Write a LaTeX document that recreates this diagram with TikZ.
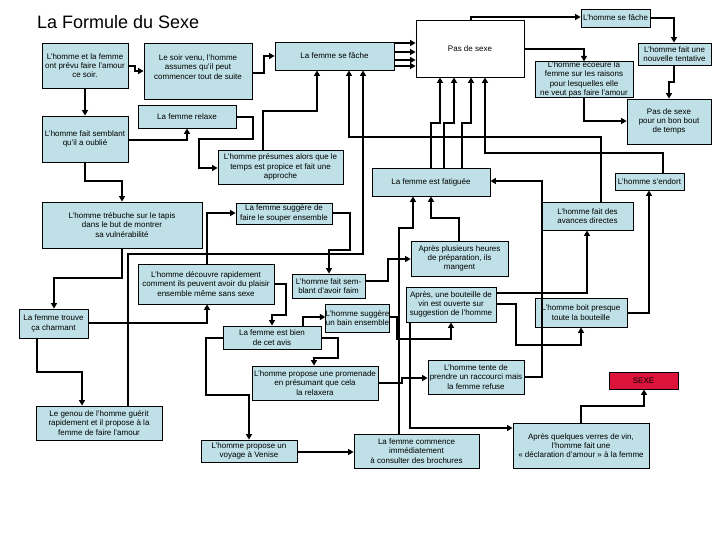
\documentclass[tikz,border=0pt]{standalone}
\usepackage{fontspec}
\setmainfont{Liberation Sans}
\usetikzlibrary{arrows.meta}
\definecolor{boxblue}{RGB}{190,224,230}
\definecolor{sexred}{RGB}{220,20,60}
\tikzset{
  box/.style={draw=black, line width=0.8pt, fill=boxblue, inner sep=0pt, align=center,
    font=\fontsize{8}{9.3}\selectfont},
  conn/.style={line width=2pt, -{Triangle[length=5.5pt,width=6pt]}},
}
\newcommand\mybox[7][]{\node[box,#1,minimum width={#5-#3},minimum height={#6-#4}] (#2) at ({(#3+#5)/2},{(#4+#6)/2}) {#7};}
\begin{document}
\begin{tikzpicture}[x=1pt,y=-1pt]
\useasboundingbox (0,0) rectangle (720,540);
\node[anchor=base west, inner sep=0pt, font=\fontsize{18}{20}\selectfont] (title) at (37,29) {La Formule du Sexe};

\mybox{A}{42}{43}{128}{88}{L'homme et la femme\\ont prévu faire l'amour\\ce soir.}
\mybox[text depth=8pt]{B}{144}{43}{252}{99}{Le soir venu, l'homme\\assumes qu'il peut\\commencer tout de suite}
\mybox{C}{275}{42}{394}{70}{La femme se fâche}
\mybox[fill=white]{D}{416}{20}{524}{77}{Pas de sexe}
\mybox{E}{581}{9}{650}{27}{L'homme se fâche}
\mybox{F}{638}{43}{711}{65}{L'homme fait une\\nouvelle tentative}
\mybox{G}{535}{62}{633}{97}{L'homme écoeure la\\femme sur les raisons\\pour lesquelles elle\\ne veut pas faire l'amour}
\mybox{H}{627}{99}{711}{144}{Pas de sexe\\pour un bon bout\\de temps}
\mybox{I}{138}{105}{236}{128}{La femme relaxe}
\mybox{J}{42}{116}{128}{162}{L'homme fait semblant\\qu'il a oublié}
\mybox{K}{218}{150}{343}{184}{L'homme présumes alors que le\\temps est propice et fait une\\approche}
\mybox{L}{372}{168}{490}{196}{La femme est fatiguée}
\mybox{M}{615}{173}{684}{190}{L'homme s'endort}
\mybox{N}{542}{202}{633}{230}{L'homme fait des\\avances directes}
\mybox{O}{42}{202}{202}{248}{L'homme trébuche sur le tapis\\dans le but de montrer\\sa vulnérabilité}
\mybox{P}{236}{203}{332}{224}{La femme suggère de\\faire le souper ensemble}
\mybox{Q}{411}{241}{508}{276}{Après plusieurs heures\\de préparation, ils\\mangent}
\mybox{R}{138}{264}{274}{304}{L'homme découvre rapidement\\comment ils peuvent avoir du plaisir\\ensemble même sans sexe}
\mybox{S}{292}{274}{365}{298}{L'homme fait sem-\\blant d'avoir faim}
\mybox{T}{19}{309}{88}{338}{La femme trouve\\ça charmant}
\mybox{U}{406}{287}{496}{322}{Après, une bouteille de\\vin est ouverte sur\\suggestion de l'homme}
\mybox{V}{535}{298}{627}{327}{L'homme boit presque\\toute la bouteille}
\mybox{W}{326}{304}{389}{332}{L'homme suggère\\un bain ensemble}
\mybox{X}{223}{326}{321}{349}{La femme est bien\\de cet avis}
\mybox{Y}{252}{366}{378}{400}{L'homme propose une promenade\\en présumant que cela\\la relaxera}
\mybox{Z}{428}{360}{524}{394}{L'homme tente de\\prendre un raccourci mais\\la femme refuse}
\mybox[fill=sexred]{SX}{609}{372}{678}{389}{SEXE}
\mybox{AA}{36}{406}{162}{440}{Le genou de l'homme guérit\\rapidement et il propose à la\\femme de faire l'amour}
\mybox{BB}{201}{440}{297}{462}{L'homme propose un\\voyage à Venise}
\mybox{CC}{354}{434}{479}{468}{La femme commence\\immédiatement\\à consulter des brochures}
\mybox{DD}{513}{423}{649}{468}{Après quelques verres de vin,\\l'homme fait une\\« déclaration d'amour » à la femme}

% connectors
\draw[conn] (A.east|-0,66) -- (135,66) -- (135,71) -- (B.west|-0,71);
\draw[conn] (A.south-|85,0) -- (J.north-|85,0);
\draw[conn] (B.east|-0,73) -- (264,73) -- (264,56) -- (C.west|-0,56);
\foreach \yy in {43,52,60,66} {\draw[conn] (C.east|-0,\yy) -- (D.west|-0,\yy);}
\draw[conn] (D.north-|471,0) -- (471,17) -- (E.west|-0,17);
\draw[conn] (E.east|-0,18) -- (674,18) -- (F.north-|674,0);
\draw[conn] (D.east|-0,49) -- (584,49) -- (G.north-|584,0);
\draw[conn] (F.south-|674,0) -- (674,82) -- (669,82) -- (H.north-|669,0);
\draw[conn] (G.south-|584,0) -- (584,121) -- (H.west|-0,121);
\draw[conn] (J.east|-0,140) -- (187,140) -- (I.south-|187,0);
\draw[conn] (I.east|-0,117) -- (253,117) -- (253,139) -- (199,139) -- (199,168) -- (K.west|-0,168);
\draw[conn] (K.north-|263,0) -- (263,111) -- (317,111) -- (C.south-|317,0);
\draw[conn] (N.north-|601,0) -- (601,137) -- (349,137) -- (C.south-|349,0);
\draw[conn] (AA.north-|128,0) -- (128,254) -- (363,254) -- (C.south-|363,0);
\draw[conn] (L.north-|431,0) -- (431,123) -- (440,123) -- (D.south-|440,0);
\draw[conn] (L.north-|444,0) -- (444,123) -- (454,123) -- (D.south-|454,0);
\draw[conn] (L.north-|462,0) -- (462,123) -- (471,123) -- (D.south-|471,0);
\draw[conn] (M.north-|663,0) -- (663,153) -- (485,153) -- (D.south-|485,0);
\draw[conn] (CC.north-|399,0) -- (399,228) -- (413,228) -- (L.south-|413,0);
\draw[conn] (Q.north-|459,0) -- (459,218) -- (431,218) -- (L.south-|431,0);
\draw[conn] (Z.east|-0,377) -- (542,377) -- (542,181) -- (L.east|-0,181);
\draw[conn] (U.east|-0,293) -- (587,293) -- (N.south-|587,0);
\draw[conn] (U.east|-0,304) -- (516,304) -- (516,345) -- (581,345) -- (V.south-|581,0);
\draw[conn] (V.east|-0,313) -- (649,313) -- (M.south-|649,0);
\draw[conn] (J.south-|85,0) -- (85,181) -- (122,181) -- (O.north-|122,0);
\draw[conn] (O.south-|122,0) -- (122,278) -- (54,278) -- (T.north-|54,0);
\draw[conn] (T.east|-0,323) -- (207,323) -- (R.south-|207,0);
\draw[conn] (R.north-|207,0) -- (207,213) -- (P.west|-0,213);
\draw[conn] (P.east|-0,213) -- (350,213) -- (350,250) -- (329,250) -- (S.north-|329,0);
\draw[conn] (S.east|-0,281) -- (388,281) -- (388,259) -- (Q.west|-0,259);
\draw[conn] (R.east|-0,284) -- (286,284) -- (286,315) -- (272,315) -- (X.north-|272,0);
\draw[conn] (X.north-|303,0) -- (303,317) -- (W.west|-0,317);
\draw[conn] (X.east|-0,338) -- (338,338) -- (338,358) -- (314,358) -- (Y.north-|314,0);
\draw[conn] (X.west|-0,338) -- (206,338) -- (206,395) -- (249,395) -- (BB.north-|249,0);
\draw[conn] (W.east|-0,317) -- (397,317) -- (397,339) -- (451,339) -- (U.south-|451,0);
\draw[conn] (Y.east|-0,383) -- (402,383) -- (402,378) -- (Z.west|-0,378);
\draw[conn] (U.south-|410,0) -- (410,428) -- (DD.west|-0,428);
\draw[conn] (BB.east|-0,452) -- (CC.west|-0,452);
\draw[conn] (DD.north-|581,0) -- (581,406) -- (644,406) -- (SX.south-|644,0);
\draw[conn] (T.south-|37,0) -- (37,372) -- (82,372) -- (AA.north-|82,0);
\end{tikzpicture}
\end{document}
